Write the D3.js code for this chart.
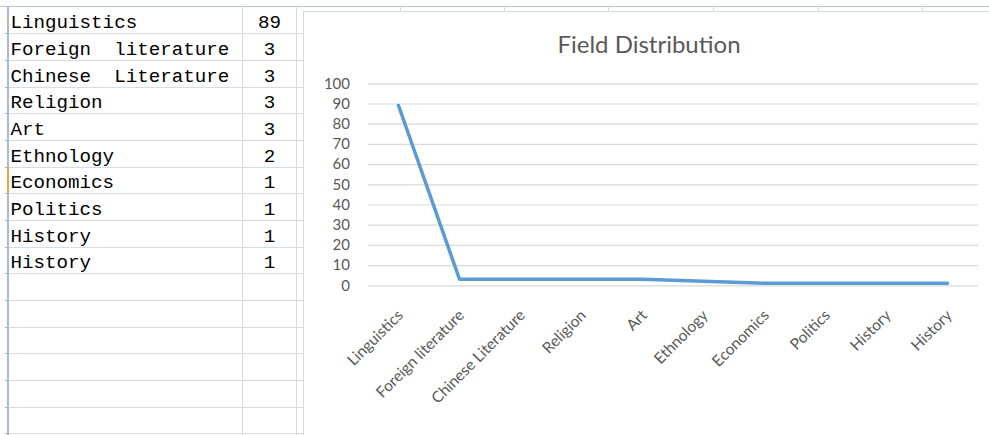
<!DOCTYPE html>
<html><head><meta charset="utf-8">
<script src="https://cdn.jsdelivr.net/npm/d3@7"></script>
<style>
html,body{margin:0;padding:0;background:#fff;}
svg{display:block;}
</style></head>
<body>
<svg id="c" width="989" height="435"></svg>
<script>
const categories = ["Linguistics","Foreign literature","Chinese Literature","Religion","Art","Ethnology","Economics","Politics","History","History"];
const tableLabels = ["Linguistics","Foreign  literature","Chinese  Literature","Religion","Art","Ethnology","Economics","Politics","History","History"];
const values = [89,3,3,3,3,2,1,1,1,1];
const yTicks = [0,10,20,30,40,50,60,70,80,90,100];
const title = "Field Distribution";
const totalRows = 16;

const svg = d3.select("#c");
const W = 989, H = 435;

// ---- spreadsheet table ----
const rowY = d3.scaleLinear().domain([0, totalRows]).range([6.67, 433.33]);
const gridColor = "#d5dce8";
const tbl = svg.append("g");
tbl.append("line").attr("x1",0).attr("x2",W).attr("y1",6.5).attr("y2",6.5)
  .attr("stroke","#b7c6da").attr("stroke-width",1);
[400,504,608,713,818,922].forEach(x=>{
  tbl.append("line").attr("x1",x+0.5).attr("x2",x+0.5).attr("y1",6.5).attr("y2",11)
    .attr("stroke","#d5dce8");
});
d3.range(1, totalRows+1).forEach(i=>{
  const y = Math.round(rowY(i))+0.5;
  tbl.append("line").attr("x1",8).attr("x2",303).attr("y1",y).attr("y2",y)
    .attr("stroke",gridColor).attr("stroke-width",1);
  tbl.append("line").attr("x1",5).attr("x2",8).attr("y1",y).attr("y2",y)
    .attr("stroke","#9fb3cb").attr("stroke-width",1);
});
[242,296].forEach(x=>{
  tbl.append("line").attr("x1",x+0.5).attr("x2",x+0.5).attr("y1",6.5).attr("y2",H)
    .attr("stroke",gridColor).attr("stroke-width",1);
});
tbl.append("line").attr("x1",8).attr("x2",8).attr("y1",6.5).attr("y2",H)
  .attr("stroke","#a9bbd2").attr("stroke-width",2);
tbl.append("rect").attr("x",7).attr("y",rowY(6)+0.5).attr("width",2).attr("height",rowY(7)-rowY(6)-1)
  .attr("fill","#f2a043");

const tt = tbl.append("g").attr("font-family","'Liberation Mono', monospace").attr("font-size",19.2).attr("fill","#000");
tableLabels.forEach((t,i)=>{
  tt.append("text").attr("x",10.5).attr("y",rowY(i)+21.5).style("white-space","pre").text(t);
  tt.append("text").attr("x",269.5).attr("y",rowY(i)+21.5).attr("text-anchor","middle").text(values[i]);
});

// ---- chart ----
const chart = svg.append("g");
chart.append("rect").attr("x",303.5).attr("y",11.5).attr("width",W).attr("height",H)
  .attr("fill","#fff").attr("stroke","#d9d9d9").attr("stroke-width",1);

chart.append("text").attr("x",649).attr("y",53).attr("text-anchor","middle")
  .attr("font-family","Lato, sans-serif").attr("font-size",24).attr("fill","#595959").text(title);

const x = d3.scalePoint().domain(d3.range(categories.length)).range([368,978]).padding(0.5);
const y = d3.scaleLinear().domain([0,100]).range([285.3, 83.3]);

const yAxis = d3.axisLeft(y).tickValues(yTicks).tickSize(-(978-368)).tickPadding(18);
const gy = chart.append("g").attr("transform","translate(368,0)").call(yAxis);
gy.select(".domain").remove();
gy.selectAll(".tick line").attr("stroke","#d9d9d9").attr("stroke-width",1.2);
gy.selectAll(".tick text").attr("font-family","Lato, sans-serif").attr("font-size",15).attr("fill","#595959");

const xAxis = d3.axisBottom(x).tickSize(0).tickFormat(i=>categories[i]);
const gx = chart.append("g").attr("transform","translate(0,285.3)").call(xAxis);
gx.select(".domain").remove();
gx.selectAll(".tick text")
  .attr("font-family","Lato, sans-serif").attr("font-size",15.5).attr("fill","#595959")
  .attr("text-anchor","end").attr("dy",null).attr("y",0)
  .attr("transform","translate(5,31) rotate(-45)");

const line = d3.line().x((d,i)=>x(i)).y(d=>y(d));
chart.append("path").datum(values).attr("d",line).attr("fill","none")
  .attr("stroke","#5b9bd5").attr("stroke-width",3.5).attr("stroke-linejoin","round").attr("stroke-linecap","round");
</script>
</body></html>
